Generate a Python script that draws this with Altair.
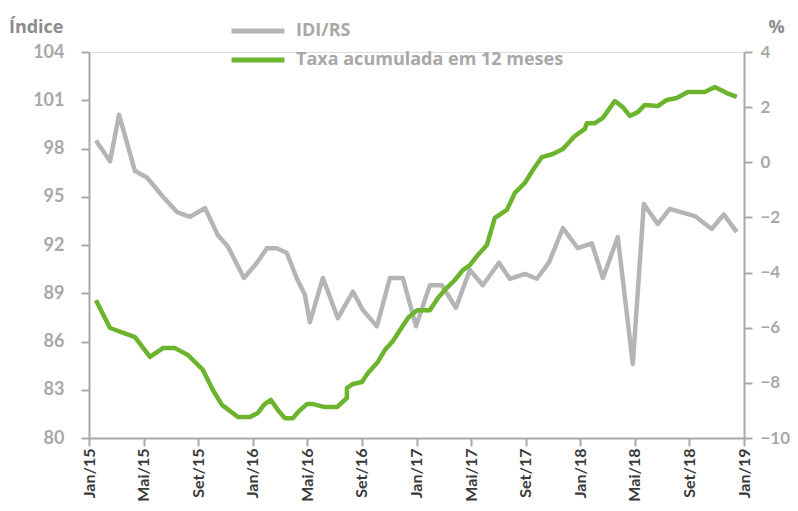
import altair as alt
import pandas as pd

# ---- data (time in months since Jan/2015) ----
idi_t = [0.51, 1.54, 2.20, 3.37, 4.25, 5.42, 6.45, 7.40, 8.50, 9.45, 10.18, 11.36,
         12.31, 13.04, 13.77, 14.5, 15.24, 15.82, 16.19, 17.14, 18.24, 19.34, 20.07,
         21.1, 22.05, 23.0, 23.96, 24.98, 25.86, 26.89, 27.91, 28.86, 30.04, 30.84,
         31.94, 32.82, 33.7, 34.73, 35.82, 36.85, 37.66, 38.75, 39.85, 40.66, 41.68,
         42.56, 44.40, 45.64, 46.52, 47.47]
idi_v = [98.5, 97.2, 100.1, 96.6, 96.2, 95.0, 94.05, 93.75, 94.3, 92.6, 91.9, 89.95,
         90.9, 91.8, 91.8, 91.5, 89.9, 88.9, 87.2, 89.95, 87.45, 89.1, 87.95, 86.95,
         89.95, 89.95, 86.95, 89.5, 89.5, 88.1, 90.45, 89.5, 90.9, 89.9, 90.2, 89.9,
         90.9, 93.05, 91.8, 92.1, 89.95, 92.5, 84.6, 94.55, 93.3, 94.25, 93.8, 93.0,
         93.9, 92.8]

taxa_t = [0.51, 1.54, 3.37, 4.47, 5.42, 6.30, 7.25, 8.35, 9.08, 9.74, 10.92, 11.79,
          12.38, 12.85, 13.33, 13.85, 14.36, 14.95, 15.31, 15.97, 16.41, 17.29, 18.17,
          18.90, 18.90, 19.34, 20.0, 20.44, 21.17, 21.68, 22.27, 23.40, 24.05, 24.98,
          25.57, 26.08, 26.81, 27.40, 27.91, 28.50, 29.16, 29.74, 30.62, 31.21, 31.94,
          32.53, 33.19, 33.99, 34.73, 35.60, 36.34, 36.48, 37.07, 37.66, 38.53, 39.12,
          39.63, 40.22, 40.73, 41.68, 42.34, 43.08, 43.88, 45.13, 45.86, 46.74, 47.47]
taxa_v = [-5.0, -6.01, -6.34, -7.06, -6.74, -6.74, -6.99, -7.53, -8.26, -8.80, -9.24, -9.24,
          -9.09, -8.78, -8.62, -8.99, -9.28, -9.28, -9.06, -8.77, -8.77, -8.88, -8.88,
          -8.55, -8.19, -8.04, -7.97, -7.64, -7.24, -6.81, -6.48, -5.63, -5.37, -5.37,
          -4.92, -4.63, -4.27, -3.91, -3.73, -3.36, -3.0, -2.02, -1.73, -1.11, -0.75,
          -0.28, 0.19, 0.30, 0.48, 0.95, 1.21, 1.42, 1.42, 1.61, 2.22, 2.0,
          1.68, 1.82, 2.08, 2.04, 2.26, 2.33, 2.55, 2.55, 2.73, 2.51, 2.37]

x_tick_labels = ["Jan/15", "Mai/15", "Set/15", "Jan/16", "Mai/16", "Set/16", "Jan/17",
                 "Mai/17", "Set/17", "Jan/18", "Mai/18", "Set/18", "Jan/19"]
left_ticks = [80, 83, 86, 89, 92, 95, 98, 101, 104]
right_ticks = [-10, -8, -6, -4, -2, 0, 2, 4]
series_names = ["IDI/RS", "Taxa acumulada em 12 meses"]
series_colors = ["#b5b5b5", "#6cb42d"]

FONT = "Lato"
LEG_FONT = "Open Sans"
AXIS_GREY = "#a8a8a8"

df_idi = pd.DataFrame({"t": idi_t, "v": idi_v, "serie": series_names[0],
                       "ordem": list(range(len(idi_t)))})
df_taxa = pd.DataFrame({"t": taxa_t, "v": taxa_v, "serie": series_names[1],
                        "ordem": list(range(len(taxa_t)))})

label_array = "[" + ",".join("'%s'" % s for s in x_tick_labels) + "]"

x_enc = alt.X(
    "t:Q",
    scale=alt.Scale(domain=[0, 48], nice=False, zero=False),
    axis=alt.Axis(
        values=list(range(0, 49, 4)),
        labelExpr=label_array + "[round(datum.value / 4)]",
        labelAngle=270,
        title=None,
        grid=False,
        domainColor=AXIS_GREY, domainWidth=2,
        tickColor=AXIS_GREY, tickWidth=2, tickSize=8,
        labelFont=FONT, labelFontSize=16, labelFontWeight="bold",
        labelColor="#3a3a3a", labelPadding=2,
    ),
)

color_enc = alt.Color(
    "serie:N",
    scale=alt.Scale(domain=series_names, range=series_colors),
    legend=alt.Legend(
        title=None, orient="none", legendX=153, legendY=-37,
        symbolType="M-2,0H2", symbolSize=700, symbolStrokeWidth=5,
        labelFont=LEG_FONT, labelFontSize=18, labelFontWeight="bold",
        labelColor=AXIS_GREY, labelOffset=22, rowPadding=3, labelLimit=500,
    ),
)

grey = alt.Chart(df_idi).mark_line(strokeWidth=4.5, strokeJoin="round").encode(
    x=x_enc,
    y=alt.Y(
        "v:Q",
        scale=alt.Scale(domain=[80, 104], nice=False, zero=False),
        axis=alt.Axis(
            values=left_ticks, title="Índice", orient="left", grid=False,
            titleAngle=0, titleX=-26, titleY=-25, titleAlign="right",
            titleBaseline="middle",
            titleFont=LEG_FONT, titleFontSize=18, titleFontWeight="bold",
            titleColor="#8c8c8c",
            domainColor=AXIS_GREY, domainWidth=2,
            tickColor=AXIS_GREY, tickWidth=2, tickSize=8,
            labelFont=FONT, labelFontSize=18, labelFontWeight="bold",
            labelColor=AXIS_GREY, labelPadding=17,
        ),
    ),
    color=color_enc,
    order="ordem:Q",
)

green = alt.Chart(df_taxa).mark_line(strokeWidth=4.5, strokeJoin="round").encode(
    x=x_enc,
    y=alt.Y(
        "v:Q",
        scale=alt.Scale(domain=[-10, 4], nice=False, zero=False),
        axis=alt.Axis(
            values=right_ticks, title="%", orient="right", grid=False,
            titleAngle=0, titleX=24, titleY=-25, titleAlign="left",
            titleBaseline="middle",
            titleFont=LEG_FONT, titleFontSize=18, titleFontWeight="bold",
            titleColor="#8c8c8c",
            domainColor=AXIS_GREY, domainWidth=2,
            tickColor=AXIS_GREY, tickWidth=2, tickSize=8,
            labelFont=FONT, labelFontSize=17, labelFontWeight="bold",
            labelColor=AXIS_GREY, labelPadding=8,
        ),
    ),
    color=color_enc,
    order="ordem:Q",
)

chart = (
    alt.layer(grey, green)
    .resolve_scale(y="independent")
    .properties(
        width=655, height=386,
        autosize=alt.AutoSizeParams(type="none"),
        padding={"left": 81, "top": 44, "right": 46, "bottom": 65},
    )
    .configure_view(stroke=None)
    .configure(background="white")
)

chart.save("out.html", embed_options={"renderer": "svg", "actions": False})
